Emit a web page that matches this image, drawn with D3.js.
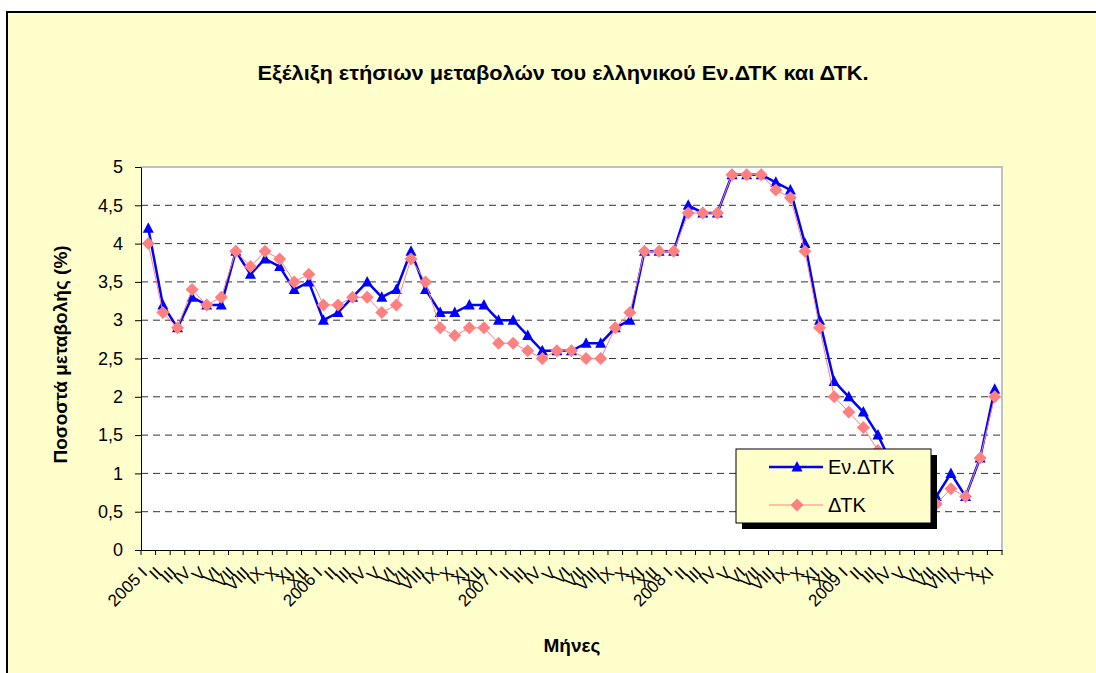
<!DOCTYPE html>
<html>
<head>
<meta charset="utf-8">
<script src="https://cdn.jsdelivr.net/npm/d3@7"></script>
<style>
  body { margin: 0; background: #fff; }
  svg { display: block; font-family: "Liberation Sans", Arial, sans-serif; }
</style>
</head>
<body>
<div id="chart"></div>
<script>
// data
const years = ["2005", "2006", "2007", "2008", "2009"];
const romans = ["I","II","III","IV","V","VI","VII","VIII","IX","X","XI","XII"];
const monthCount = 59; // 2005 I .. 2009 XI

const evDtk = [4.2,3.2,2.9,3.3,3.2,3.2,3.9,3.6,3.8,3.7,3.4,3.5,
               3.0,3.1,3.3,3.5,3.3,3.4,3.9,3.4,3.1,3.1,3.2,3.2,
               3.0,3.0,2.8,2.6,2.6,2.6,2.7,2.7,2.9,3.0,3.9,3.9,
               3.9,4.5,4.4,4.4,4.9,4.9,4.9,4.8,4.7,4.0,3.0,2.2,
               2.0,1.8,1.5,1.1,0.7,0.7,0.7,1.0,0.7,1.2,2.1];
const dtk   = [4.0,3.1,2.9,3.4,3.2,3.3,3.9,3.7,3.9,3.8,3.5,3.6,
               3.2,3.2,3.3,3.3,3.1,3.2,3.8,3.5,2.9,2.8,2.9,2.9,
               2.7,2.7,2.6,2.5,2.6,2.6,2.5,2.5,2.9,3.1,3.9,3.9,
               3.9,4.4,4.4,4.4,4.9,4.9,4.9,4.7,4.6,3.9,2.9,2.0,
               1.8,1.6,1.3,1.1,0.5,0.6,0.6,0.8,0.7,1.2,2.0];
const yTicks = [0,0.5,1,1.5,2,2.5,3,3.5,4,4.5,5];

// labels: "2005 I", "II", ... "XII", "2006 I", ...
const labels = d3.range(monthCount).map(i => {
  const m = i % 12;
  return m === 0 ? years[Math.floor(i / 12)] + " " + romans[m] : romans[m];
});

const W = 1096, H = 673;
const pLeft = 141, pRight = 1002, pTop = 167, pBottom = 550;

const svg = d3.select("#chart").append("svg")
  .attr("width", W).attr("height", H);

// frame
svg.append("rect")
  .attr("x", 7).attr("y", 12).attr("width", 1110).attr("height", 700)
  .attr("fill", "#FFFFCC").attr("stroke", "#000").attr("stroke-width", 2);

const x = d3.scaleBand().domain(d3.range(monthCount)).range([pLeft, pRight]);
const bw = x.bandwidth();
const cx = i => x(i) + bw / 2;
const y = d3.scaleLinear().domain([0, 5]).range([pBottom, pTop]);

// plot area
svg.append("rect")
  .attr("x", pLeft).attr("y", pTop).attr("width", pRight - pLeft).attr("height", pBottom - pTop)
  .attr("fill", "#fff");
svg.append("path")
  .attr("d", `M${pLeft},${pTop}H${pRight}V${pBottom}`)
  .attr("fill", "none").attr("stroke", "#C0C0C0").attr("stroke-width", 2);

// gridlines
svg.append("g").selectAll("line")
  .data(yTicks.filter(d => d > 0 && d < 5))
  .enter().append("line")
  .attr("x1", pLeft).attr("x2", pRight)
  .attr("y1", d => y(d)).attr("y2", d => y(d))
  .attr("stroke", "#333").attr("stroke-dasharray", "7,5");

// title
svg.append("text")
  .attr("x", 563).attr("y", 80)
  .attr("text-anchor", "middle")
  .attr("font-weight", "bold").attr("font-size", 21)
  .attr("textLength", 611).attr("lengthAdjust", "spacingAndGlyphs")
  .text("Εξέλιξη ετήσιων μεταβολών του ελληνικού Εν.ΔΤΚ και ΔΤΚ.");

// y axis
const locale = d3.formatLocale({ decimal: ",", thousands: ".", grouping: [3], currency: ["", "€"] });
const yAxis = svg.append("g")
  .attr("transform", `translate(${pLeft},0)`)
  .call(d3.axisLeft(y).tickValues(yTicks).tickSize(6).tickSizeOuter(0).tickPadding(12)
    .tickFormat(locale.format("~g")));
yAxis.selectAll("text").attr("font-size", 18).attr("fill", "#000")
  .attr("font-family", "Liberation Sans, Arial, sans-serif");
yAxis.selectAll("line, path").attr("stroke", "#000");

// x axis, ticks on category boundaries
const xAxis = svg.append("g")
  .attr("transform", `translate(0,${pBottom})`)
  .call(d3.axisBottom(x).tickSize(5).tickSizeOuter(0).tickFormat(""));
xAxis.selectAll(".tick line").attr("transform", `translate(${-bw / 2},0)`);
xAxis.append("line").attr("x1", pRight).attr("x2", pRight).attr("y1", 0).attr("y2", 5);
xAxis.selectAll("line, path").attr("stroke", "#000");

svg.append("g").selectAll("text")
  .data(labels)
  .enter().append("text")
  .attr("transform", (d, i) => `translate(${cx(i)},${pBottom + 24}) rotate(-45)`)
  .attr("text-anchor", "end")
  .attr("font-size", 17)
  .text(d => d);

// axis titles
svg.append("text")
  .attr("transform", `translate(67,${(pTop + pBottom) / 2 - 4}) rotate(-90)`)
  .attr("text-anchor", "middle")
  .attr("font-weight", "bold").attr("font-size", 19)
  .text("Ποσοστά μεταβολής (%)");
svg.append("text")
  .attr("x", 572).attr("y", 652)
  .attr("text-anchor", "middle")
  .attr("font-weight", "bold").attr("font-size", 19)
  .text("Μήνες");

// series
const triangle = "M0,-6L5.5,4.5L-5.5,4.5Z";
const diamond = "M0,-6.5L6.5,0L0,6.5L-6.5,0Z";
const line = d3.line().x((d, i) => cx(i)).y(d => y(d));

svg.append("path").datum(evDtk)
  .attr("d", line).attr("fill", "none").attr("stroke", "#0000FF").attr("stroke-width", 2.5);
svg.append("g").selectAll("path").data(evDtk).enter().append("path")
  .attr("d", triangle)
  .attr("transform", (d, i) => `translate(${cx(i)},${y(d)})`)
  .attr("fill", "#0000FF");

svg.append("path").datum(dtk)
  .attr("d", line).attr("fill", "none").attr("stroke", "#FF8080").attr("stroke-width", 1);
svg.append("g").selectAll("path").data(dtk).enter().append("path")
  .attr("d", diamond)
  .attr("transform", (d, i) => `translate(${cx(i)},${y(d)})`)
  .attr("fill", "#FF8080");

// legend
const lg = svg.append("g").attr("transform", "translate(736,449)");
lg.append("rect").attr("x", 6).attr("y", 6).attr("width", 195).attr("height", 74).attr("fill", "#000");
lg.append("rect").attr("width", 195).attr("height", 74)
  .attr("fill", "#FFFFCC").attr("stroke", "#000").attr("stroke-width", 1);
const items = [
  { name: "Εν.ΔΤΚ", color: "#0000FF", width: 2.5, shape: triangle, dy: 18 },
  { name: "ΔΤΚ", color: "#FF8080", width: 1, shape: diamond, dy: 56 }
];
items.forEach(it => {
  lg.append("line").attr("x1", 33).attr("x2", 87).attr("y1", it.dy).attr("y2", it.dy)
    .attr("stroke", it.color).attr("stroke-width", it.width);
  lg.append("path").attr("d", it.shape).attr("transform", `translate(61,${it.dy})`).attr("fill", it.color);
  lg.append("text").attr("x", 92).attr("y", it.dy + 7).attr("font-size", 20).text(it.name);
});
</script>
</body>
</html>
